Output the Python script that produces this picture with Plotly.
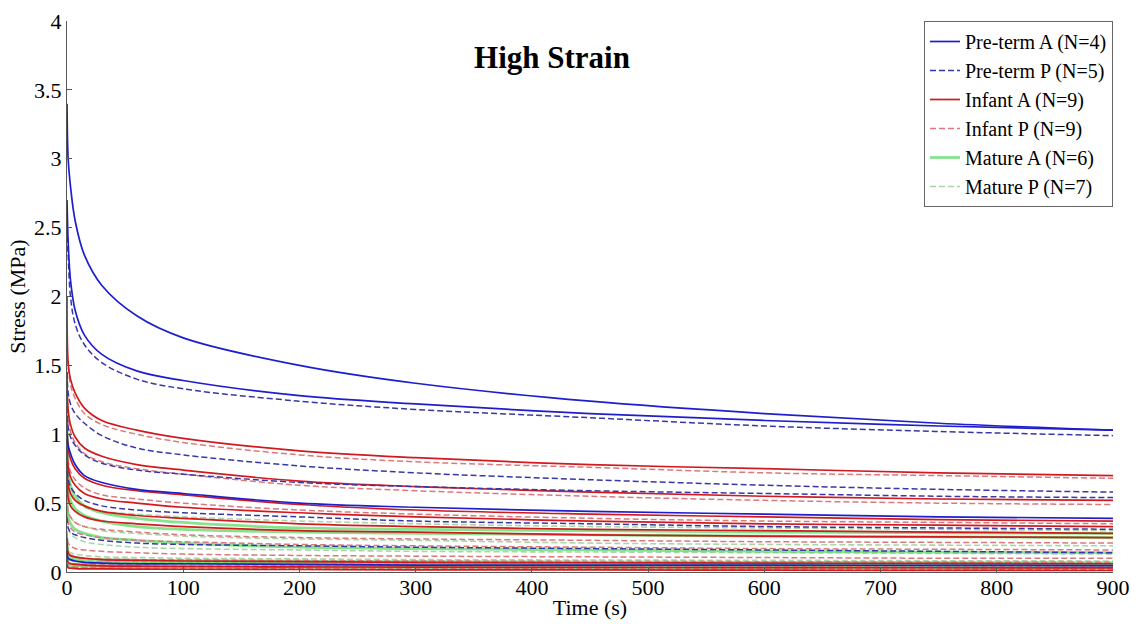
import plotly.graph_objects as go

# Sample times (s)
time_s = [0, 1, 3, 7, 15, 30, 60, 100, 200, 300, 450, 600, 750, 900]

# Stress (MPa) curves
preterm_A = [
    [3.40, 3.00, 2.80, 2.55, 2.30, 2.08, 1.86, 1.70, 1.50, 1.37, 1.24, 1.15, 1.08, 1.03],
    [2.70, 2.40, 2.12, 1.90, 1.72, 1.58, 1.46, 1.39, 1.28, 1.22, 1.15, 1.10, 1.06, 1.03],
    [1.00, 0.92, 0.86, 0.78, 0.70, 0.65, 0.60, 0.57, 0.50, 0.47, 0.44, 0.42, 0.40, 0.39],
    [0.15, 0.10, 0.09, 0.08, 0.07, 0.065, 0.06, 0.06, 0.055, 0.05, 0.05, 0.05, 0.048, 0.047],
]
preterm_P = [
    [2.50, 2.30, 2.00, 1.80, 1.65, 1.52, 1.40, 1.33, 1.24, 1.18, 1.12, 1.06, 1.02, 0.99],
    [1.45, 1.30, 1.22, 1.15, 1.08, 0.99, 0.90, 0.85, 0.77, 0.72, 0.67, 0.63, 0.60, 0.58],
    [1.20, 1.05, 0.98, 0.92, 0.85, 0.79, 0.74, 0.71, 0.65, 0.62, 0.59, 0.57, 0.55, 0.54],
    [0.80, 0.68, 0.62, 0.57, 0.52, 0.48, 0.45, 0.43, 0.40, 0.37, 0.35, 0.33, 0.32, 0.31],
    [0.40, 0.32, 0.29, 0.27, 0.25, 0.23, 0.21, 0.20, 0.19, 0.18, 0.17, 0.16, 0.15, 0.14],
]
infant_A = [
    [2.00, 1.52, 1.40, 1.30, 1.19, 1.10, 1.03, 0.97, 0.88, 0.83, 0.78, 0.75, 0.72, 0.70],
    [1.45, 1.18, 1.07, 0.98, 0.90, 0.84, 0.78, 0.74, 0.66, 0.62, 0.58, 0.55, 0.53, 0.52],
    [1.10, 0.90, 0.82, 0.75, 0.68, 0.63, 0.59, 0.56, 0.49, 0.45, 0.42, 0.40, 0.38, 0.37],
    [0.95, 0.76, 0.69, 0.63, 0.57, 0.53, 0.50, 0.47, 0.43, 0.40, 0.37, 0.35, 0.34, 0.33],
    [0.80, 0.63, 0.57, 0.52, 0.48, 0.44, 0.41, 0.39, 0.35, 0.33, 0.31, 0.30, 0.29, 0.28],
    [0.70, 0.54, 0.48, 0.44, 0.40, 0.37, 0.35, 0.33, 0.30, 0.29, 0.27, 0.26, 0.255, 0.25],
    [0.12, 0.07, 0.06, 0.055, 0.05, 0.045, 0.042, 0.04, 0.037, 0.035, 0.033, 0.032, 0.031, 0.03],
    [0.06, 0.03, 0.028, 0.025, 0.023, 0.022, 0.021, 0.02, 0.018, 0.016, 0.015, 0.013, 0.012, 0.011],
    [0.25, 0.14, 0.12, 0.11, 0.10, 0.09, 0.085, 0.08, 0.075, 0.07, 0.067, 0.064, 0.062, 0.06],
]
infant_P = [
    [1.55, 1.48, 1.36, 1.26, 1.15, 1.07, 1.00, 0.94, 0.85, 0.80, 0.76, 0.72, 0.70, 0.68],
    [1.30, 1.12, 1.02, 0.94, 0.86, 0.80, 0.75, 0.71, 0.63, 0.59, 0.55, 0.52, 0.50, 0.49],
    [0.95, 0.80, 0.73, 0.67, 0.61, 0.56, 0.53, 0.50, 0.45, 0.42, 0.39, 0.37, 0.36, 0.35],
    [0.55, 0.44, 0.40, 0.36, 0.33, 0.31, 0.29, 0.27, 0.25, 0.24, 0.23, 0.22, 0.215, 0.21],
    [0.30, 0.21, 0.19, 0.17, 0.16, 0.15, 0.14, 0.13, 0.12, 0.115, 0.11, 0.105, 0.10, 0.10],
    [0.45, 0.36, 0.32, 0.29, 0.27, 0.25, 0.23, 0.22, 0.20, 0.19, 0.18, 0.17, 0.165, 0.16],
    [0.18, 0.13, 0.12, 0.11, 0.10, 0.095, 0.09, 0.088, 0.083, 0.08, 0.077, 0.075, 0.072, 0.07],
    [0.10, 0.07, 0.065, 0.06, 0.057, 0.055, 0.052, 0.05, 0.047, 0.045, 0.043, 0.042, 0.041, 0.04],
    [0.07, 0.04, 0.037, 0.035, 0.033, 0.031, 0.03, 0.029, 0.027, 0.025, 0.023, 0.022, 0.021, 0.02],
]
mature_A = [
    [1.15, 0.75, 0.63, 0.55, 0.48, 0.43, 0.39, 0.36, 0.32, 0.31, 0.30, 0.29, 0.285, 0.28],
    [0.55, 0.40, 0.35, 0.31, 0.28, 0.25, 0.23, 0.21, 0.18, 0.17, 0.16, 0.15, 0.145, 0.14],
    [0.20, 0.10, 0.09, 0.08, 0.075, 0.07, 0.065, 0.063, 0.06, 0.058, 0.056, 0.055, 0.054, 0.053],
    [0.25, 0.13, 0.11, 0.10, 0.095, 0.09, 0.085, 0.082, 0.078, 0.075, 0.072, 0.07, 0.068, 0.066],
    [0.12, 0.06, 0.05, 0.045, 0.042, 0.04, 0.038, 0.037, 0.035, 0.034, 0.033, 0.032, 0.031, 0.03],
    [0.85, 0.60, 0.52, 0.46, 0.41, 0.37, 0.33, 0.31, 0.29, 0.28, 0.27, 0.26, 0.255, 0.25],
]
mature_P = [
    [0.60, 0.45, 0.40, 0.36, 0.33, 0.30, 0.28, 0.26, 0.24, 0.23, 0.21, 0.20, 0.195, 0.19],
    [0.45, 0.32, 0.28, 0.25, 0.22, 0.20, 0.18, 0.17, 0.16, 0.15, 0.145, 0.14, 0.135, 0.13],
    [0.28, 0.16, 0.14, 0.13, 0.12, 0.11, 0.105, 0.10, 0.095, 0.09, 0.087, 0.085, 0.082, 0.08],
    [0.15, 0.10, 0.09, 0.085, 0.08, 0.075, 0.072, 0.07, 0.066, 0.062, 0.058, 0.055, 0.052, 0.05],
    [0.12, 0.07, 0.065, 0.06, 0.058, 0.055, 0.052, 0.05, 0.048, 0.046, 0.044, 0.042, 0.041, 0.04],
    [0.08, 0.04, 0.037, 0.035, 0.033, 0.032, 0.031, 0.03, 0.028, 0.026, 0.024, 0.022, 0.021, 0.02],
    [0.95, 0.65, 0.58, 0.52, 0.47, 0.44, 0.42, 0.40, 0.37, 0.35, 0.33, 0.32, 0.31, 0.30],
]

x_ticks = [0, 100, 200, 300, 400, 500, 600, 700, 800, 900]
y_ticks = [0, 0.5, 1, 1.5, 2, 2.5, 3, 3.5, 4]

DASH = "6px,3px"
groups = [
    # (name, data, color, dash, width, rank)
    ("Mature P (N=7)", mature_P, "rgba(160,210,160,0.9)", DASH, 1.6, 6),
    ("Mature A (N=6)", mature_A, "rgba(80,215,90,0.7)", "solid", 2.8, 5),
    ("Infant P (N=9)", infant_P, "rgb(220,120,125)", DASH, 1.5, 4),
    ("Infant A (N=9)", infant_A, "rgb(210,25,30)", "solid", 1.7, 3),
    ("Pre-term P (N=5)", preterm_P, "rgb(55,55,170)", DASH, 1.5, 2),
    ("Pre-term A (N=4)", preterm_A, "rgb(30,30,205)", "solid", 1.7, 1),
]

FONT = "Liberation Serif"

fig = go.Figure()
for name, data, color, dash, width, rank in groups:
    for i, ys in enumerate(data):
        fig.add_trace(go.Scatter(
            x=time_s, y=ys, mode="lines", name=name,
            legendgroup=name, showlegend=(i == 0), legendrank=rank,
            line=dict(color=color, dash=dash, width=width, shape="spline", smoothing=1.0),
        ))

fig.update_layout(
    width=1136, height=624,
    margin=dict(l=67, r=23, t=21, b=52, autoexpand=False),
    paper_bgcolor="white", plot_bgcolor="white",
    font=dict(family=FONT, size=22, color="black"),
    title=dict(text="<b>High Strain</b>", x=0.4637, xref="paper", xanchor="center",
               y=1 - 57 / 624, yref="container", yanchor="middle",
               font=dict(family=FONT, size=31, color="black")),
    showlegend=True,
    legend=dict(x=1.0, y=1.0, xanchor="right", yanchor="top",
                bgcolor="white", bordercolor="#666", borderwidth=1,
                font=dict(family=FONT, size=20, color="black"),
                tracegroupgap=0, itemwidth=30),
)
fig.update_xaxes(range=[0, 900], tickvals=x_ticks, showline=True, linecolor="#555",
                 linewidth=1, ticks="inside", ticklen=5, tickcolor="#555",
                 showgrid=False, zeroline=False, automargin=False,
                 tickfont=dict(family=FONT, size=22), ticklabelstandoff=-4,
                 title=dict(text="Time (s)", standoff=0, font=dict(family=FONT, size=22)))
fig.update_yaxes(range=[0, 4], tickvals=y_ticks, showline=True, linecolor="#555",
                 linewidth=1, ticks="inside", ticklen=5, tickcolor="#555",
                 showgrid=False, zeroline=False, automargin=False,
                 tickfont=dict(family=FONT, size=22),
                 title=dict(text="Stress (MPa)", standoff=2, font=dict(family=FONT, size=22)))

fig.write_html("out.html")
